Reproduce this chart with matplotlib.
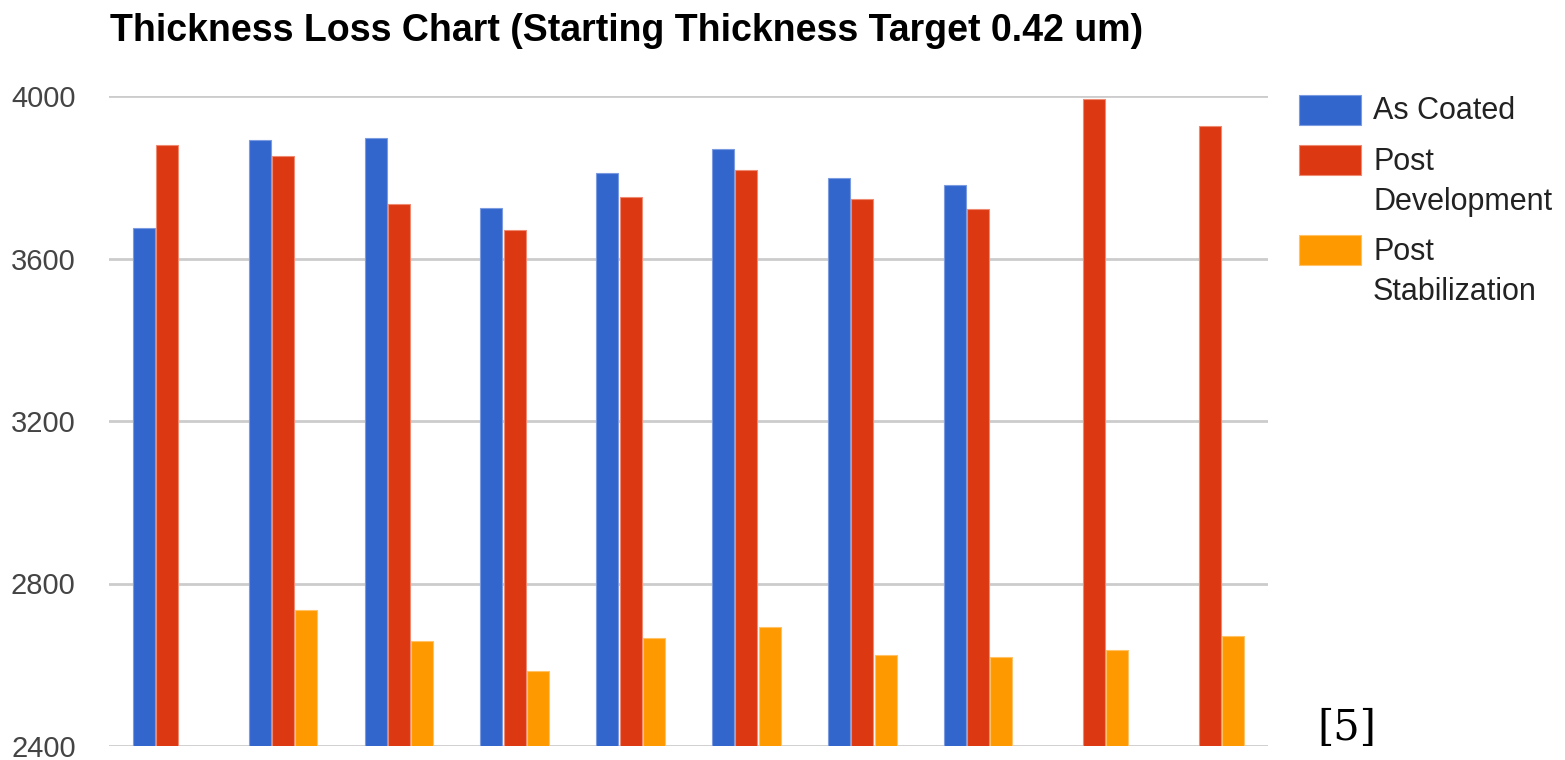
import numpy as np
import matplotlib
matplotlib.use("Agg")
import matplotlib.pyplot as plt
from matplotlib.patches import Rectangle

# Film thickness (Angstrom) per sample, three process stages
samples = np.arange(1, 11)
as_coated = [3675, 3892, 3897, 3724, 3810, 3869, 3799, 3782, np.nan, np.nan]
post_development = [3880, 3852, 3734, 3670, 3752, 3817, 3746, 3723, 3992, 3927]
post_stabilization = [np.nan, 2736, 2659, 2584, 2665, 2694, 2624, 2618, 2636, 2671]

series_names = ["As Coated", "Post\nDevelopment", "Post\nStabilization"]
series_colors = ["#3366CC", "#DC3912", "#FF9900"]
edge_colors = ["#7B9BE0", "#EE8A72", "#FFC266"]
y_ticks = [2400, 2800, 3200, 3600, 4000]

plt.rcParams["font.family"] = ["Liberation Sans", "DejaVu Sans"]

W, H = 1565, 760
fig = plt.figure(figsize=(W / 100, H / 100), dpi=100)
ax = fig.add_axes([109 / W, 1 - 746 / H, (1268 - 109) / W, (746 - 96) / H])

x = np.arange(len(samples))
bw = 0.19
offsets = [-0.2, 0.0, 0.2]
for vals, off, col, ec in zip([as_coated, post_development, post_stabilization],
                              offsets, series_colors, edge_colors):
    ax.bar(x + off, vals, width=bw, color=col, edgecolor=ec, linewidth=0.8, zorder=3)

ax.set_ylim(2400, 4000)
ax.set_xlim(-0.5, len(samples) - 0.5)
ax.set_yticks(y_ticks)
ax.set_yticklabels([str(t) for t in y_ticks], fontsize=21, color="#444444")
ax.tick_params(axis="y", length=0, pad=24)
ax.set_xticks([])
for s in ax.spines.values():
    s.set_visible(False)
ax.grid(axis="y", color="#CCCCCC", linewidth=2, zorder=0)

fig.text(110 / W, 1 - 41 / H, "Thickness Loss Chart (Starting Thickness Target 0.42 um)",
         fontsize=27, fontweight="bold", color="#000000", ha="left", va="baseline")

# Legend drawn by hand so the swatch lines up with the first text line
leg_tops = [95, 145, 235]
first_baselines = [119, 170, 260]
line_step = 40
for top, base, name, col, ec in zip(leg_tops, first_baselines, series_names,
                                    series_colors, edge_colors):
    fig.add_artist(Rectangle((1299 / W, 1 - (top + 30) / H), 62 / W, 30 / H,
                             transform=fig.transFigure, facecolor=col,
                             edgecolor=ec, linewidth=0.8))
    for i, line in enumerate(name.split("\n")):
        fig.text(1373 / W, 1 - (base + i * line_step) / H, line, fontsize=22,
                 color="#222222", ha="left", va="baseline")

fig.text(1317 / W, 1 - 740 / H, "[5]", fontsize=30, family="DejaVu Serif",
         color="#000000", ha="left", va="baseline")

fig.savefig("out.png", dpi=100)
